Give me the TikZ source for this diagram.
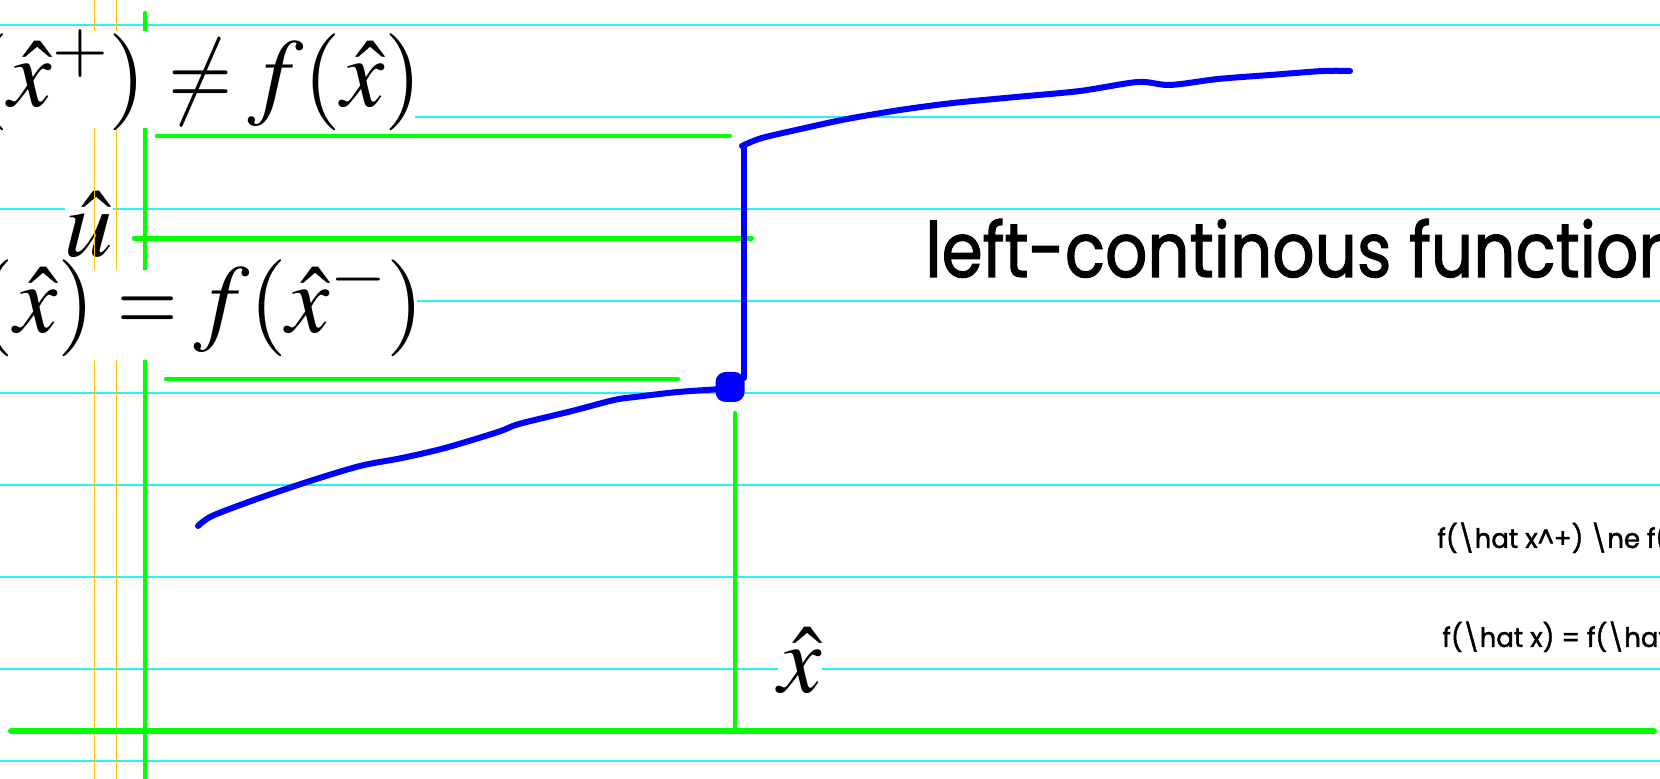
\documentclass[tikz,border=0pt]{standalone}
\usepackage{fontspec}
\usepackage{mathptmx}
\newfontfamily\comicfont{Poppins}[FakeBold=1.6]
\definecolor{rule1}{RGB}{40,240,255}
\definecolor{margin1}{RGB}{255,200,0}
\definecolor{green1}{RGB}{0,255,0}
\definecolor{blue1}{RGB}{0,0,255}
\newcommand{\slimrel}[2]{\mathrel{\scalebox{#1}[1]{$#2$}}}

\begin{document}
\begin{tikzpicture}[x=0.5pt, y=-0.5pt,
    ruleline/.style={draw=rule1, line width=1.1pt},
    marginline/.style={draw=margin1, line width=0.5pt},
    axisline/.style={draw=green1, line width=2.2pt, line cap=round},
    inkline/.style={draw=blue1, line width=3pt, line cap=round, line join=round},
    inkdot/.style={fill=blue1, rounded corners=5pt, minimum width=14.5pt, minimum height=15pt, inner sep=0pt},
    bigmath/.style={fill=white, inner sep=0pt, font=\fontsize{48.5}{58}\selectfont},
    handtext/.style={inner sep=0pt, font=\comicfont\fontsize{38}{44}\selectfont},
    notetext/.style={inner sep=0pt, font=\comicfont\fontsize{13.5}{16}\selectfont}
]
    \clip (0,0) rectangle (1660,779);
    \fill[white] (0,0) rectangle (1660,779);

    % ruled paper
    \foreach \y in {25,117,...,761}
        \draw[ruleline] (0,\y) -- (1660,\y);

    \node[bigmath, anchor=base] (uhat) at (89,257) {$\hat{u}$};
    \node[bigmath, anchor=base] (xhat) at (800,693) {$\hat{x}$};

    \draw[marginline] (94,0) -- (94,779);
    \draw[marginline] (116.5,0) -- (116.5,779);

    % axes and guide lines
    \draw[axisline] (145,13) -- (145,790);
    \draw[axisline, line width=3pt] (11,731) -- (1654,731);
    \draw[axisline] (157,136) -- (730,136);
    \draw[axisline] (134,238.5) -- (752,238.5);
    \draw[axisline] (166,379) -- (678,379);
    \draw[axisline] (735,413) -- (735,731);

    \node[bigmath, text height=38pt, text depth=10.5pt, anchor=base east] (jumpne) at (415,107) {$f(\hat{x}^{+}) \slimrel{0.85}{\neq}\mkern-1mu f(\hat{x})\kern-4pt$};
    \node[bigmath, text height=31.5pt, text depth=13.5pt, anchor=base east] (jumpeq) at (417,333) {$f(\hat{x}) \slimrel{0.8}{=}\mkern-1mu f(\hat{x}^{-})\kern-4pt$};

    % the function
    \node[inkdot] (jump) at (730,387) {};
    \draw[inkline] plot[smooth, tension=0.5] coordinates {(198,526) (212,516) (254,500) (307,482) (360,466) (402,458) (445,448) (498,432) (519,424) (572,411) (614,400) (635,397) (678,392) (722,389)};
    \draw[inkline] (744,146) -- (744,378);
    \draw[inkline] plot[smooth, tension=0.5] coordinates {(742,146) (762,138) (805,128) (847,119) (900,110) (953,103) (1016,97) (1080,91) (1138,82) (1170,85) (1218,79) (1270,75) (1323,71) (1350,71)};

    \node[handtext, anchor=base west] (caption) at (925,277) {\scalebox{0.87}[1]{left-continous function}};
    \node[notetext, anchor=base west] (notea) at (1437,548) {\scalebox{0.96}[1]{f(\textbackslash hat x\textasciicircum+) \textbackslash ne f(}};
    \node[notetext, anchor=base west] (noteb) at (1442,647) {\scalebox{0.96}[1]{f(\textbackslash hat x) = f(\textbackslash hat}};
\end{tikzpicture}
\end{document}
